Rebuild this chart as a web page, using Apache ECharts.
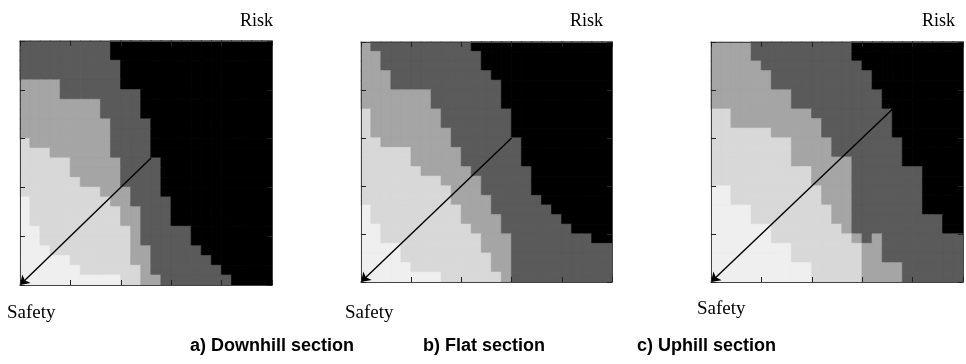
<!DOCTYPE html>
<html><head><meta charset="utf-8">
<script src="https://cdn.jsdelivr.net/npm/echarts@6/dist/echarts.min.js"></script>
<style>html,body{margin:0;padding:0;background:#fff}#c{width:966px;height:364px}</style>
</head><body><div id="c"></div>
<script>
// Level per cell (0 = lightest ... 4 = black); rows listed from top to bottom, 25 columns each
const panelDownhill = [
  "3333333334444444444444444",
  "3333333334444444444444444",
  "3333333333444444444444444",
  "3333333333444444444444444",
  "2222333333444444444444444",
  "2222333333334444444444444",
  "2222222233334444444444444",
  "2222222233334444444444444",
  "2222222223333444444444444",
  "2222222223333444444444444",
  "1222222223333444444444444",
  "1112222223333444444444444",
  "1111122222333344444444444",
  "1111122222333344444444444",
  "1111112222333344444444444",
  "1111111122233344444444444",
  "0111111112233334444444444",
  "0111111111223334444444444",
  "0111111111223334444444444",
  "0011111111123333344444444",
  "0011111111123333344444444",
  "0001111111122333334444444",
  "0000011111122333333444444",
  "0000001111112333333344444",
  "0000000000112233333334444"
];
const panelFlat = [
  "2333333333344444444444444",
  "2233333333334444444444444",
  "2233333333334444444444444",
  "2223333333333444444444444",
  "2223333333333344444444444",
  "2222222333333344444444444",
  "2222222333333344444444444",
  "1222222233333334444444444",
  "1222222233333334444444444",
  "1222222223333334444444444",
  "1122222223333333444444444",
  "1111122222333333444444444",
  "1111122222333333444444444",
  "1111112222233333344444444",
  "1111111122223333344444444",
  "1111111112223333344444444",
  "1111111112222333334444444",
  "0111111111222333333444444",
  "0111111111222233333344444",
  "0011111111122233333334444",
  "0011111111112223333333344",
  "0000111111112223333333333",
  "0000111111111223333333333",
  "0000011111111223333333333",
  "0000000011111123333333333"
];
const panelUphill = [
  "2222333333333344444444444",
  "2222333333333344444444444",
  "2222233333333334444444444",
  "2222223333333333444444444",
  "2222223333333333444444444",
  "2222222233333333344444444",
  "2222222233333333344444444",
  "1122222222333333334444444",
  "1122222222233333334444444",
  "1111112222233333334444444",
  "1111111122223333333444444",
  "1111111122223333333444444",
  "1111111122222233333444444",
  "1111111111222233333334444",
  "1111111111222233333334444",
  "0011111111122233333334444",
  "0011111111122233333334444",
  "0000111111112233333334444",
  "0000111111112233333333344",
  "0000001111111233333333344",
  "0000001111111123233333333",
  "0000000011111112233333333",
  "0000000011111112233333333",
  "0000000000111112222333333",
  "0000000000111112222333333"
];
const arrowTips = [13, 15, 18];        // diagonal arrow end (cells) for each panel
const riskLabel = "Risk";
const safetyLabel = "Safety";
const sectionTitles = ["a) Downhill section", "b) Flat section", "c) Uphill section"];

const panels = [panelDownhill, panelFlat, panelUphill];
const levelColors = ['#efefef', '#d8d8d8', '#a5a5a5', '#5a5a5a', '#000000'];
const gridBoxes = [
  {left: 20, top: 41, width: 252, height: 244},
  {left: 361, top: 42, width: 251, height: 240},
  {left: 711, top: 42, width: 252, height: 240}
];
const riskPos = [[240, 21], [570, 21], [922, 21]];
const safetyPos = [[7, 313], [345, 313], [697, 309]];
const titlePos = [190, 423, 637];

const N = 25;
const cats = Array.from({length: N}, (_, i) => i);
const grid = [], xAxis = [], yAxis = [], series = [], graphic = [];
const valAxis = (i, pos) => ({
  type: 'value', gridIndex: i, min: 0, max: N, interval: 5, position: pos, z: 10,
  axisLine: {show: true, onZero: false, lineStyle: {color: '#444', width: 1}},
  axisTick: {show: true, inside: true, length: 5, lineStyle: {color: '#222', width: 1}},
  axisLabel: {show: false}, splitLine: {show: false}
});
panels.forEach((rows, i) => {
  grid.push(Object.assign({}, gridBoxes[i]));
  xAxis.push({type: 'category', gridIndex: i, data: cats, show: false, boundaryGap: true});
  xAxis.push(valAxis(i, 'bottom'));
  xAxis.push(valAxis(i, 'top'));
  yAxis.push({type: 'category', gridIndex: i, data: cats, show: false, boundaryGap: true});
  yAxis.push(valAxis(i, 'left'));
  yAxis.push(valAxis(i, 'right'));
  const data = [];
  rows.forEach((row, r) => {
    for (let c = 0; c < row.length; c++) {
      const lv = +row[c];
      const col = levelColors[lv];
      data.push({value: [c, N - 1 - r, lv], itemStyle: {color: col, borderColor: col, borderWidth: 0.6}});
    }
  });
  series.push({
    type: 'heatmap', xAxisIndex: 3 * i, yAxisIndex: 3 * i, data: data,
    progressive: 0, animation: false, silent: true
  });
  const t = arrowTips[i];
  series.push({
    type: 'lines', coordinateSystem: 'cartesian2d', xAxisIndex: 3 * i + 1, yAxisIndex: 3 * i + 1,
    data: [{coords: [[t, t], [0, 0]]}], symbol: ['none', 'arrow'], symbolSize: 9,
    lineStyle: {color: '#000', width: 1.4, opacity: 1}, z: 5, animation: false, silent: true
  });
  graphic.push({type: 'text', style: {text: riskLabel, x: riskPos[i][0], y: riskPos[i][1],
    font: '18px "Liberation Serif", "Times New Roman", serif', fill: '#000', textVerticalAlign: 'middle'}});
  graphic.push({type: 'text', style: {text: safetyLabel, x: safetyPos[i][0], y: safetyPos[i][1],
    font: '19px "Liberation Serif", "Times New Roman", serif', fill: '#000', textVerticalAlign: 'middle'}});
  graphic.push({type: 'text', style: {text: sectionTitles[i], x: titlePos[i], y: 346,
    font: 'bold 18px "Liberation Sans", Arial, sans-serif', fill: '#000', textVerticalAlign: 'middle'}});
});

const chart = echarts.init(document.getElementById('c'), null, {renderer: 'canvas'});
chart.setOption({animation: false, backgroundColor: '#fff', grid, xAxis, yAxis, series, graphic});
</script></body></html>
